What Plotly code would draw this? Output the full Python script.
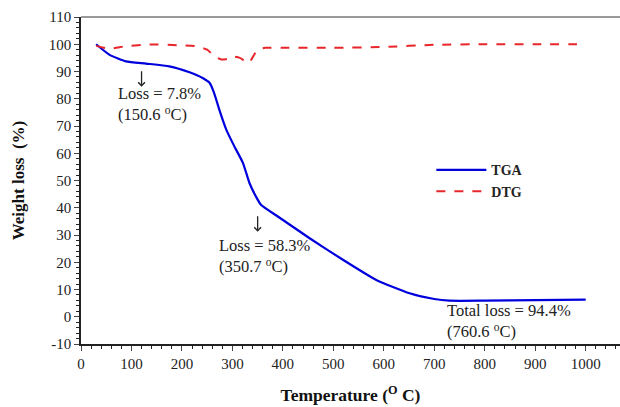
import plotly.graph_objects as go

# TGA curve (weight %, vs temperature °C)
tga_temp = [30, 56, 89, 129, 175, 215, 241, 255, 264, 274, 288, 304, 321, 334, 347, 357, 390, 453, 519, 585, 651, 700, 730, 800, 900, 1000]
tga_wt = [100, 96.2, 93.7, 92.9, 91.9, 89.7, 87.6, 85.8, 82.0, 76.0, 68.6, 62.5, 56.4, 49.0, 44.0, 41.0, 36.8, 28.8, 20.9, 13.5, 8.6, 6.5, 5.9, 5.9, 6.1, 6.3]

# DTG curve
dtg_temp = [30, 56, 89, 136, 200, 230, 250, 265, 278, 290, 302, 315, 325, 333, 340, 350, 365, 400, 500, 600, 700, 800, 900, 1000]
dtg_val = [99.4, 98.4, 99.3, 99.9, 99.6, 99.2, 98.0, 95.5, 94.4, 94.6, 95.4, 95.0, 93.8, 93.2, 95.2, 98.0, 98.7, 98.7, 98.7, 99.0, 99.8, 100.0, 100.0, 100.0]

x_ticks = [0, 100, 200, 300, 400, 500, 600, 700, 800, 900, 1000]
y_ticks = [-10, 0, 10, 20, 30, 40, 50, 60, 70, 80, 90, 100, 110]
y_ticktext = ["-10", "0", "10", "20", "30", "40", "50", "60", "70", "80", "90", "100", "110"]

SERIF = "Liberation Serif, Times New Roman, serif"

fig = go.Figure()
fig.add_trace(go.Scatter(x=tga_temp, y=tga_wt, mode="lines", name="TGA",
                         line=dict(color="#0000dd", width=2.2, shape="spline", smoothing=0.5)))
fig.add_trace(go.Scatter(x=dtg_temp, y=dtg_val, mode="lines", name="DTG",
                         line=dict(color="#e8262a", width=2, dash="dash", shape="spline", smoothing=0.6)))

ann_font = dict(family=SERIF, size=16.5, color="#222")
arrow_style = dict(text="", showarrow=True, arrowhead=4, arrowsize=1, arrowwidth=1.3,
                   arrowcolor="#222", ax=0, ay=-17, axref="pixel", ayref="pixel")
annotations = [
    dict(x=120, y=84.4, **arrow_style),
    dict(x=70, y=78, text="Loss = 7.8%<br>(150.6 <sup>o</sup>C)", showarrow=False, xanchor="left", yanchor="middle", align="left", font=ann_font),
    dict(x=350, y=31.2, **arrow_style),
    dict(x=269, y=22.2, text="Loss = 58.3%<br>(350.7 <sup>o</sup>C)", showarrow=False, xanchor="left", yanchor="middle", align="left", font=ann_font),
    dict(x=721, y=-1.7, text="Total loss = 94.4%<br>(760.6 <sup>o</sup>C)", showarrow=False, xanchor="left", yanchor="middle", align="left", font=ann_font),
]

fig.update_layout(
    width=620, height=407,
    margin=dict(l=81, r=0, t=17, b=63),
    plot_bgcolor="white", paper_bgcolor="white",
    font=dict(family=SERIF, size=15, color="#222"),
    annotations=annotations,
    legend=dict(x=0.65, y=0.58, xanchor="left", yanchor="top",
                font=dict(family=SERIF, size=14, color="#222", weight="bold"),
                bgcolor="rgba(0,0,0,0)", itemwidth=50, tracegroupgap=0),
    shapes=[dict(type="line", xref="paper", yref="paper", x0=0, x1=1, y0=1, y1=1,
                 line=dict(color="#777", width=1.5))],
)
fig.update_xaxes(
    range=[0, 1068], tickvals=x_ticks, ticks="outside", ticklen=5, tickwidth=1.2,
    showline=True, linecolor="#222", linewidth=1.5, showgrid=False, zeroline=False, automargin=False,
    minor=dict(dtick=20, tick0=0, ticks="outside", ticklen=3, tickcolor="#222", showgrid=False),
    tickfont=dict(family=SERIF, size=15, color="#222"),
    title=dict(text="Temperature (<sup>O</sup> C)", font=dict(family=SERIF, size=17.5, color="#111", weight="bold"), standoff=18),
)
fig.update_yaxes(
    range=[-10, 110], tickvals=y_ticks, ticktext=y_ticktext, ticks="outside", ticklen=5, tickwidth=1.2,
    showline=True, linecolor="#222", linewidth=1.5, showgrid=False, zeroline=False, automargin=False,
    minor=dict(dtick=2, tick0=0, ticks="outside", ticklen=3, tickcolor="#222", showgrid=False),
    tickfont=dict(family=SERIF, size=15, color="#222"),
    title=dict(text="Weight loss  (%)", font=dict(family=SERIF, size=17, color="#111", weight="bold"), standoff=20),
)

fig.write_html("out.html", config={"displayModeBar": False},
               post_script="document.body.style.margin='0';document.body.style.padding='0';")
